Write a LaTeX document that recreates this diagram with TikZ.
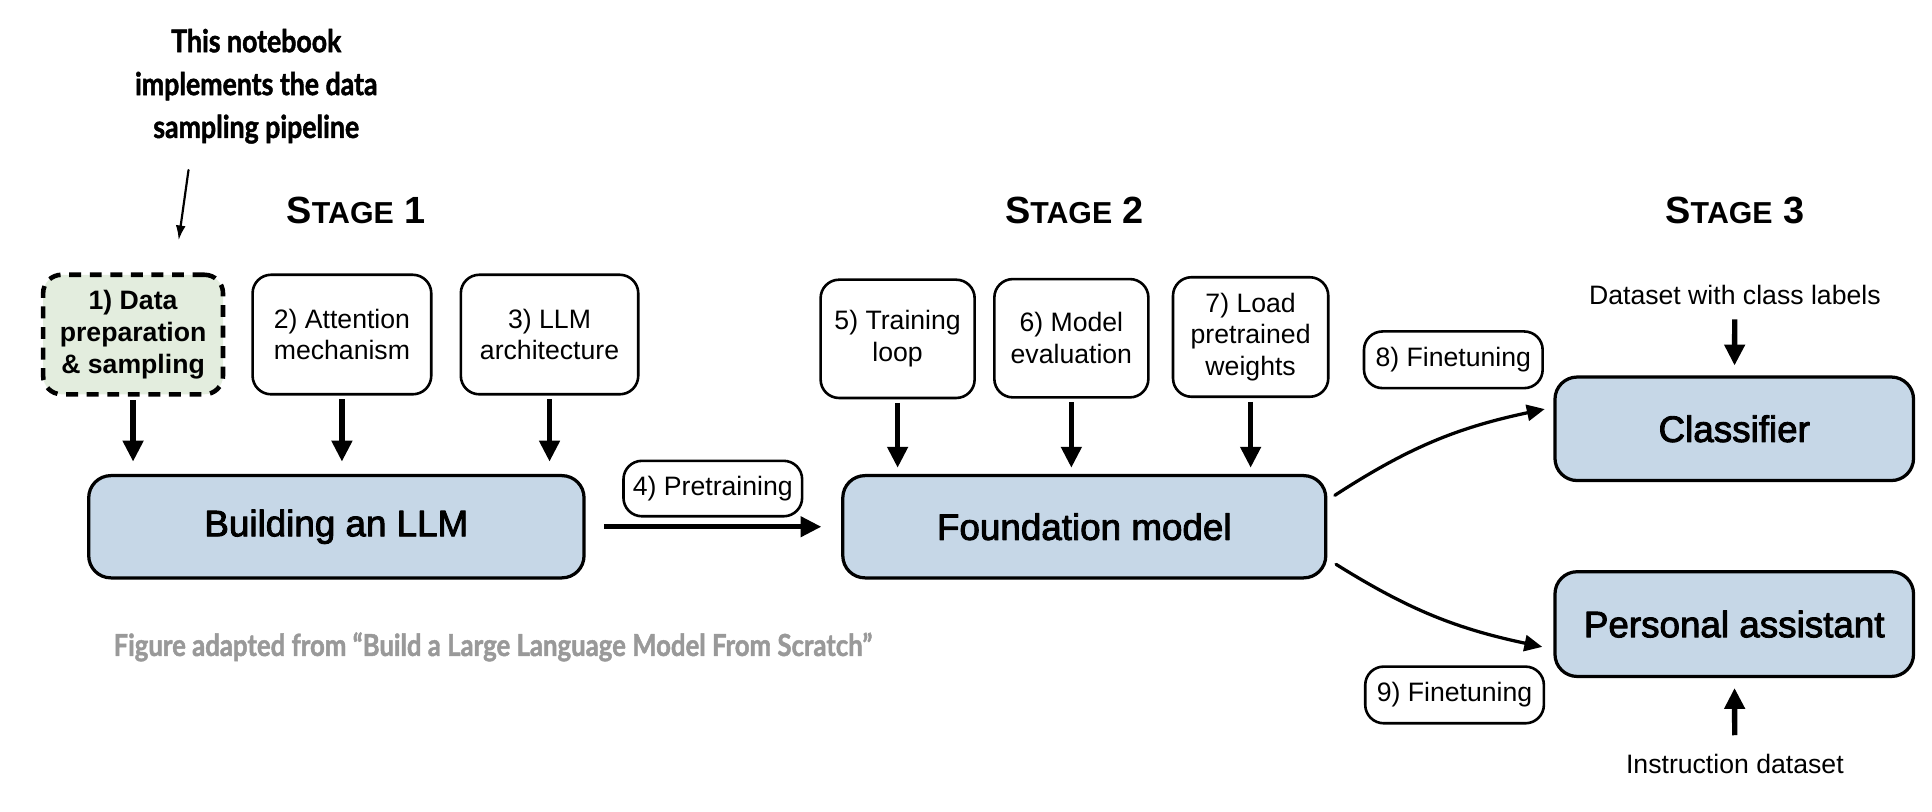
\documentclass[tikz,border=0pt]{standalone}
\usepackage{fontspec}
\setmainfont{Liberation Sans}
\newfontfamily\medfont[FakeBold=2.5]{Liberation Sans}
\newfontfamily\notefont[FakeStretch=0.85, BoldFeatures={FakeBold=1.5}]{Lato}
\usetikzlibrary{arrows.meta, calc}
\definecolor{boxblue}{HTML}{C6D7E7}
\definecolor{boxgreen}{HTML}{E3EDDE}
\definecolor{capgray}{HTML}{999999}
\newcommand{\stagetitle}[1]{{\bfseries\fontsize{17.5}{20}\selectfont S{\fontsize{14}{16}\selectfont TAGE} #1}}

\begin{document}
\begin{tikzpicture}[>=Latex, line cap=round, line join=round,
		stepbox/.style={draw, line width=1.2pt, rounded corners=0.3cm, fill=white, align=center,
			inner sep=0pt, font=\fontsize{12.3}{14.7}\selectfont},
		mainbox/.style={draw, line width=1.5pt, rounded corners=0.36cm, fill=boxblue,
			inner sep=0pt, minimum height=1.66cm, font=\medfont\fontsize{17}{20}\selectfont},
		flow/.style={-{Triangle[length=0.34cm,width=0.32cm]}, line width=2.5pt, line cap=butt},
		branch/.style={-{Triangle[length=0.29cm,width=0.26cm]}, line width=1.5pt},
		plain/.style={inner sep=0pt, font=\fontsize{12.3}{14.7}\selectfont},
		note/.style={inner sep=0pt, align=center, font=\notefont\bfseries\fontsize{14.5}{19.8}\selectfont}]
	\useasboundingbox (0,0) rectangle (31.36,13.18);
	
	% ===== annotation =====
	\node[note] (notetext) at (4.16,11.78) {This notebook\\implements the data\\sampling pipeline};
	\coordinate (notetail) at (3.06,10.42);
	\coordinate (notetip) at (2.9,9.28);
	\draw[-{Latex[length=0.24cm,width=0.16cm]}, line width=1pt] (notetail) -- (notetip);
	
	% ===== Stage 1 =====
	\node (stage1) at (5.78,9.76) {\stagetitle{1}};
	\node[stepbox, fill=boxgreen, dashed, dash pattern=on 5.5pt off 4pt, line cap=butt, line width=2.1pt,
		font=\bfseries\fontsize{12.3}{14.7}\selectfont, minimum width=2.92cm, minimum height=1.94cm]
		(data) at (2.16,7.75) {1) Data\\preparation\\\& sampling};
	\node[stepbox, minimum width=2.9cm, minimum height=1.94cm] (attn) at (5.55,7.75) {2) Attention\\mechanism};
	\node[stepbox, minimum width=2.88cm, minimum height=1.94cm] (arch) at (8.92,7.75) {3) LLM\\architecture};
	\node[mainbox, minimum width=8.04cm] (llm) at (5.46,4.63) {Building an LLM};
	\foreach \src in {data, attn, arch}
		\draw[flow, shorten <=0.06cm, shorten >=0.2cm] (\src.south) -- (\src.south |- llm.north);
	
	% pretraining
	\node[stepbox, minimum width=2.9cm, minimum height=0.9cm] (pretrain) at (11.57,5.25) {4) Pretraining};
	
	% ===== Stage 2 =====
	\node (stage2) at (17.44,9.76) {\stagetitle{2}};
	\node[stepbox, minimum width=2.5cm, minimum height=1.92cm] (loop) at (14.57,7.68) {5) Training\\loop};
	\node[stepbox, minimum width=2.5cm, minimum height=1.92cm] (eval) at (17.39,7.69) {6) Model\\evaluation};
	\node[stepbox, minimum width=2.52cm, minimum height=1.94cm] (weights) at (20.3,7.71) {7) Load\\pretrained\\weights};
	\node[mainbox, minimum width=7.84cm] (fm) at (17.6,4.63) {Foundation model};
	\foreach \src in {loop, eval, weights}
		\draw[flow, shorten <=0.06cm, shorten >=0.1cm] (\src.south) -- (\src.south |- fm.north);
	\draw[flow, shorten <=0.3cm, shorten >=0.32cm] (llm) -- (fm);
	
	% ===== Stage 3 =====
	\node (stage3) at (28.16,9.76) {\stagetitle{3}};
	\node[plain] (classdata) at (28.16,8.4) {Dataset with class labels};
	\node[mainbox, minimum width=5.82cm, minimum height=1.68cm] (cls) at (28.15,6.22) {Classifier};
	\node[mainbox, minimum width=5.82cm, minimum height=1.7cm] (assist) at (28.15,3.05) {Personal assistant};
	\node[plain] (instrdata) at (28.16,0.78) {Instruction dataset};
	\draw[flow, shorten <=0.24cm, shorten >=0.16cm] (classdata) -- (cls);
	\draw[flow, shorten <=0.3cm, shorten >=0.16cm] (instrdata) -- (assist);
	
	% finetuning branches
	\node[stepbox, minimum width=2.9cm, minimum height=0.92cm] (tune8) at (23.59,7.34) {8) Finetuning};
	\node[stepbox, minimum width=2.9cm, minimum height=0.92cm] (tune9) at (23.61,1.9) {9) Finetuning};
	\coordinate (fmtop) at ($(fm.east)+(0.12,0.51)$);
	\coordinate (fmbot) at ($(fm.east)+(0.14,-0.61)$);
	\draw[branch] (fmtop) to[out=33, in=192] ($(cls.west)+(-0.14,0.32)$);
	\draw[branch] (fmbot) to[out=-32, in=168] ($(assist.west)+(-0.18,-0.37)$);
	
	% ===== credit line =====
	\node[inner sep=0pt, text=capgray, font=\notefont\bfseries\fontsize{14}{15}\selectfont] (credit) at (8.0,2.68)
		{Figure adapted from “Build a Large Language Model From Scratch”};
	
\end{tikzpicture}
\end{document}
